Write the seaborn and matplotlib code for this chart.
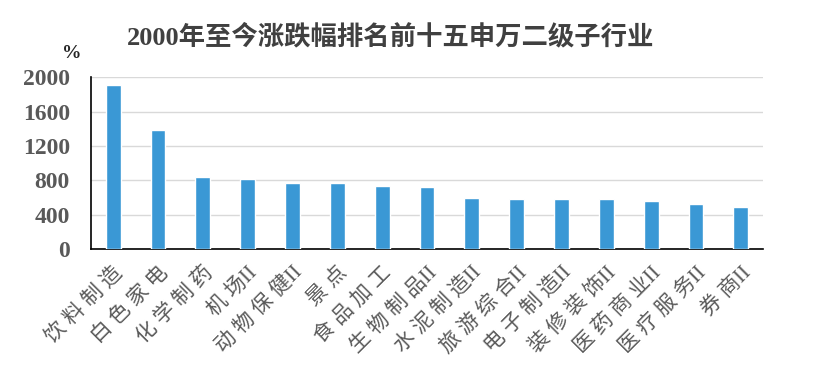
import pandas as pd
import seaborn as sns
import matplotlib.pyplot as plt

# Data
industries = ["饮料制造", "白色家电", "化学制药", "机场II", "动物保健II", "景点", "食品加工",
              "生物制品II", "水泥制造II", "旅游综合II", "电子制造II", "装修装饰II",
              "医药商业II", "医疗服务II", "券商II"]
returns = [1905, 1390, 840, 818, 774, 774, 740, 728, 596, 586, 586, 585, 562, 527, 492]
y_ticks = [0, 400, 800, 1200, 1600, 2000]


def spaced(name):
    # put a gap between Chinese characters, keep the roman "II" together
    out = ""
    for ch in name:
        if out and not (ch == "I" and out[-1] in "I "):
            out += " "
        out += ch
    return out.replace(" I", "I")


df = pd.DataFrame({"industry": industries, "ret": returns})

sns.set_theme(style="white")
plt.rcParams['font.family'] = ['Liberation Serif', 'Noto Sans CJK SC', 'DejaVu Sans']

fig = plt.figure(figsize=(8.18, 3.90), dpi=100)
ax = fig.add_axes([0.111, 0.361, 0.822, 0.441])

sns.barplot(data=df, x="industry", y="ret", color="#3A98D5", width=0.33,
            saturation=1, ax=ax, zorder=3)

ax.set_ylim(0, 2000)
ax.set_xlim(-0.5, len(industries) - 0.5)
ax.set_yticks(y_ticks)
ax.yaxis.grid(True, color="#D9D9D9", linewidth=1, zorder=0)
ax.set_xlabel("")
ax.set_ylabel("")

for s in ["top", "right"]:
    ax.spines[s].set_visible(False)
for s in ["left", "bottom"]:
    ax.spines[s].set_color("black")
    ax.spines[s].set_linewidth(1.2)

# ticks between bars on x axis
ax.set_xticks([i + 0.5 for i in range(-1, len(industries))], minor=True)
ax.tick_params(axis="x", which="minor", direction="in", length=5, width=1, color="black")
ax.tick_params(axis="x", which="major", length=0, pad=10)
ax.tick_params(axis="y", direction="in", length=0, pad=15)

for lab in ax.get_yticklabels():
    lab.set_fontfamily("Liberation Serif")
    lab.set_fontweight("bold")
    lab.set_fontsize(17)
    lab.set_color("#595959")

ax.set_xticks(range(len(industries)))
ax.set_xticklabels([spaced(n) for n in industries], rotation=45, ha="right", va="top",
                   rotation_mode="anchor", fontsize=15, color="#595959")
for lab in ax.get_xticklabels():
    lab.set_fontfamily(['Liberation Serif', 'Noto Sans CJK SC', 'DejaVu Sans'])

fig.text(0.478, 0.905, "2000年至今涨跌幅排名前十五申万二级子行业", ha="center", va="center",
         fontsize=19, fontweight="bold", color="#404040",
         family=['Liberation Serif', 'Noto Sans CJK SC'])
fig.text(0.088, 0.862, "%", ha="center", va="center", fontsize=14,
         fontweight="bold", color="#262626", family="Liberation Serif")

fig.savefig("out.png", dpi=100)
